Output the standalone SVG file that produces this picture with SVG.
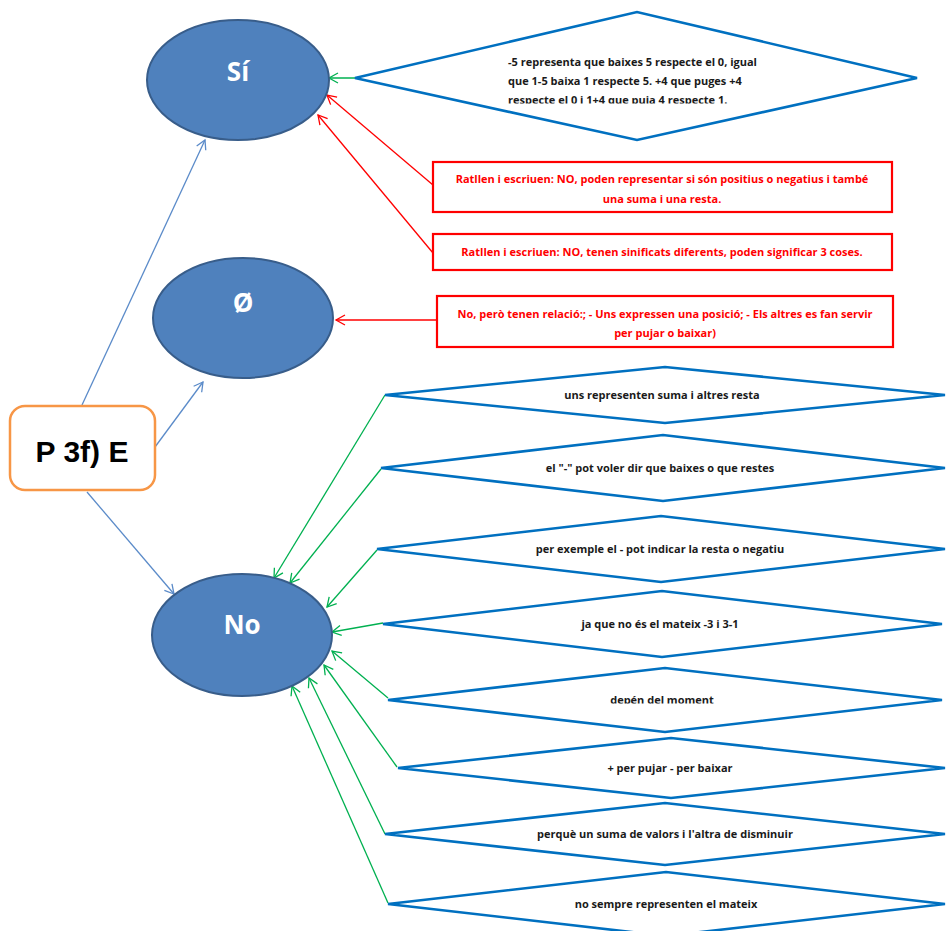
<svg xmlns="http://www.w3.org/2000/svg" width="949" height="931" viewBox="0 0 949 931">
  <style>
    .ell { fill: #4F81BD; stroke: #385D8A; stroke-width: 2; }
    .ell-t { font-family: "Open Sans", Lato, sans-serif; font-weight: bold; font-size: 26px; fill: #FFFFFF; text-anchor: middle; }
    .dia { fill: #FFFFFF; stroke: #0070C0; stroke-width: 2.6; stroke-linejoin: miter; }
    .dia-t { font-family: "Open Sans", Lato, sans-serif; font-weight: bold; font-size: 11px; fill: #1a1a1a; text-anchor: middle; }
    .box { fill: #FFFFFF; stroke: #FF0000; stroke-width: 2.2; }
    .box-t { font-family: "Open Sans", Lato, sans-serif; font-weight: bold; font-size: 11px; fill: #FF0000; text-anchor: middle; }
    .root { fill: #FFFFFF; stroke: #F79646; stroke-width: 2.5; }
    .root-t { font-family: "Liberation Sans", Arial, sans-serif; font-weight: bold; font-size: 30px; fill: #000000; text-anchor: middle; }
    .c-blue { stroke: #5B8BC9; stroke-width: 1.3; fill: none; marker-end: url(#ah-blue); }
    .c-green { stroke: #00B050; stroke-width: 1.3; fill: none; marker-end: url(#ah-green); }
    .c-red { stroke: #FF0000; stroke-width: 1.3; fill: none; marker-end: url(#ah-red); }
  </style>
  <defs>
    <marker id="ah-blue" markerUnits="userSpaceOnUse" markerWidth="12" markerHeight="12" refX="10" refY="6" orient="auto">
      <path d="M1,1 L10,6 L1,11" fill="none" stroke="#5B8BC9" stroke-width="1.3"/>
    </marker>
    <marker id="ah-green" markerUnits="userSpaceOnUse" markerWidth="12" markerHeight="12" refX="10" refY="6" orient="auto">
      <path d="M1,1 L10,6 L1,11" fill="none" stroke="#00B050" stroke-width="1.3"/>
    </marker>
    <marker id="ah-red" markerUnits="userSpaceOnUse" markerWidth="12" markerHeight="12" refX="10" refY="6" orient="auto">
      <path d="M1,1 L10,6 L1,11" fill="none" stroke="#FF0000" stroke-width="1.3"/>
    </marker>
    <clipPath id="clip-si-text">
      <rect x="360" y="40" width="500" height="63.5"/>
    </clipPath>
    <clipPath id="clip-d5-text">
      <rect x="390" y="680" width="540" height="23.5"/>
    </clipPath>
  </defs>

  <rect width="949" height="931" fill="#FFFFFF"/>

  <!-- connectors -->
  <g id="connectors">
    <!-- root to answers -->
    <line class="c-blue" x1="82" y1="405" x2="205" y2="140"/>
    <line class="c-blue" x1="155" y1="447" x2="203" y2="382"/>
    <line class="c-blue" x1="87" y1="492" x2="174" y2="594"/>
    <!-- into Sí -->
    <line class="c-green" x1="425" y1="78" x2="329" y2="78"/>
    <line class="c-red" x1="433" y1="185" x2="327" y2="95"/>
    <line class="c-red" x1="433" y1="253" x2="318" y2="115"/>
    <!-- into Ø -->
    <line class="c-red" x1="437" y1="320" x2="336" y2="320"/>
    <!-- into No -->
    <line class="c-green" x1="385" y1="395" x2="274" y2="578"/>
    <line class="c-green" x1="381" y1="469" x2="290" y2="583"/>
    <line class="c-green" x1="377" y1="550" x2="327" y2="607"/>
    <line class="c-green" x1="383" y1="623" x2="332" y2="632"/>
    <line class="c-green" x1="388" y1="698" x2="332" y2="651"/>
    <line class="c-green" x1="397" y1="767" x2="324" y2="665"/>
    <line class="c-green" x1="385" y1="834" x2="309" y2="678"/>
    <line class="c-green" x1="388" y1="903" x2="292" y2="686"/>
  </g>

  <g id="root">
    <rect class="root" x="10" y="406" width="145" height="84" rx="15"/>
    <text class="root-t" x="82" y="462">P 3f) E</text>
  </g>

  <g id="si">
    <ellipse class="ell" cx="238" cy="80" rx="91" ry="60"/>
    <text class="ell-t" x="238" y="81">Sí</text>
  </g>

  <g id="buit">
    <ellipse class="ell" cx="243" cy="318" rx="90" ry="60"/>
    <text class="ell-t" x="243" y="312">Ø</text>
  </g>

  <g id="no">
    <ellipse class="ell" cx="242" cy="635" rx="90" ry="61"/>
    <text class="ell-t" x="242" y="634">No</text>
  </g>

  <!-- reasons for Sí -->
  <g id="si-1">
    <polygon class="dia" points="355,78 637,12 917,78 637,140"/>
    <g clip-path="url(#clip-si-text)">
      <text class="dia-t" style="text-anchor:start" x="508" y="66">-5 representa que baixes 5 respecte el 0, igual</text>
      <text class="dia-t" style="text-anchor:start" x="508" y="85">que 1-5 baixa 1 respecte 5. +4 que puges +4</text>
      <text class="dia-t" style="text-anchor:start" x="508" y="104">respecte el 0 i 1+4 que puja 4 respecte 1.</text>
    </g>
  </g>
  <g id="si-2">
    <rect class="box" x="433" y="162" width="459" height="50"/>
    <text class="box-t" x="662" y="183">Ratllen i escriuen: NO, poden representar si són positius o negatius i  també</text>
    <text class="box-t" x="662" y="203">una suma i una resta.</text>
  </g>
  <g id="si-3">
    <rect class="box" x="433" y="234" width="459" height="36"/>
    <text class="box-t" x="662" y="256">Ratllen i escriuen: NO, tenen sinificats diferents, poden significar 3 coses.</text>
  </g>

  <!-- reason for Ø -->
  <g id="buit-1">
    <rect class="box" x="437" y="296" width="456" height="51"/>
    <text class="box-t" x="665" y="318">No, però tenen relació:; - Uns expressen una posició; - Els altres es fan servir</text>
    <text class="box-t" x="665" y="337">per pujar o baixar)</text>
  </g>

  <!-- reasons for No -->
  <g id="no-1">
    <polygon class="dia" points="385,395 665,367 945,395 665,423"/>
    <text class="dia-t" x="662" y="399">uns representen suma i altres resta</text>
  </g>
  <g id="no-2">
    <polygon class="dia" points="381,468 663,435 945,468 663,501"/>
    <text class="dia-t" x="660" y="472">el "-" pot voler dir que baixes  o que  restes</text>
  </g>
  <g id="no-3">
    <polygon class="dia" points="377,549 661,516 945,549 661,582"/>
    <text class="dia-t" x="660" y="553">per exemple el - pot indicar la resta o negatiu</text>
  </g>
  <g id="no-4">
    <polygon class="dia" points="383,624 662,591 942,624 662,657"/>
    <text class="dia-t" x="660" y="628">ja que no és el mateix -3 i 3-1</text>
  </g>
  <g id="no-5">
    <polygon class="dia" points="388,700 665,668 942,700 665,732"/>
    <g clip-path="url(#clip-d5-text)">
      <text class="dia-t" x="662" y="704">depén del moment</text>
    </g>
  </g>
  <g id="no-6">
    <polygon class="dia" points="398,768 671,738 945,768 671,798"/>
    <text class="dia-t" x="670" y="772">+ per pujar - per baixar</text>
  </g>
  <g id="no-7">
    <polygon class="dia" points="385,834 665,803 945,834 665,865"/>
    <text class="dia-t" x="665" y="838">perquè un suma de valors i l'altra de disminuir</text>
  </g>
  <g id="no-8">
    <polygon class="dia" points="388,904 666,872 945,904 666,936"/>
    <text class="dia-t" x="666" y="908">no sempre representen el mateix</text>
  </g>
</svg>
